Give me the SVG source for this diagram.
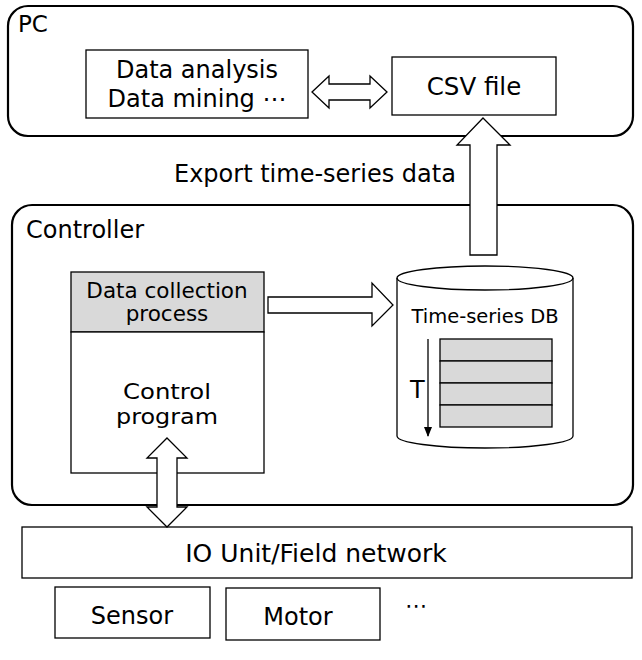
<svg xmlns="http://www.w3.org/2000/svg" width="642" height="660" viewBox="0 0 642 660">
<style>
text { font-family: "DejaVu Sans", "Noto Sans", sans-serif; fill: #000; }
.frame { fill: #fff; stroke: #000; stroke-width: 2.2; }
.box { fill: #fff; stroke: #000; stroke-width: 1.3; }
.gray { fill: #d9d9d9; stroke: #000; stroke-width: 1.3; }
.arrow { fill: #fff; stroke: #000; stroke-width: 1.3; stroke-linejoin: miter; }
.c { text-anchor: middle; }
</style>
<defs>
<marker id="tip" markerWidth="10" markerHeight="8" refX="9" refY="4" orient="auto" markerUnits="userSpaceOnUse" viewBox="0 0 10 8">
<path d="M0,0 L10,4 L0,8 Z" fill="#000"/>
</marker>
</defs>
<rect width="642" height="660" fill="#fff"/>

<g id="pc">
<rect class="frame" x="8" y="6" width="625" height="130" rx="20"/>
<text x="18" y="32" font-size="23">PC</text>
</g>

<g id="controller">
<rect class="frame" x="12" y="205" width="621" height="300" rx="20"/>
<text x="26" y="238" font-size="24">Controller</text>
</g>

<g id="data-analysis">
<rect class="box" x="86" y="50" width="222" height="68"/>
<text class="c" x="197" y="78" font-size="24">Data analysis</text>
<text class="c" x="197" y="107" font-size="24">Data mining ⋯</text>
</g>

<g id="csv-file">
<rect class="box" x="392" y="57" width="164" height="58"/>
<text class="c" x="474" y="95" font-size="24.5">CSV file</text>
</g>

<g id="data-collection">
<rect class="gray" x="71" y="272" width="193" height="60"/>
<text class="c" x="167" y="298" font-size="21.5">Data collection</text>
<text class="c" x="167" y="321" font-size="21.5">process</text>
</g>

<g id="control-program">
<rect class="box" x="71" y="332" width="193" height="141"/>
<text class="c" x="167" y="399" font-size="22" textLength="88" lengthAdjust="spacingAndGlyphs">Control</text>
<text class="c" x="167" y="424" font-size="22" textLength="102" lengthAdjust="spacingAndGlyphs">program</text>
</g>

<g id="time-series-db">
<path class="box" d="M397,278 A88,12 0 0 1 573,278 L573,436 A88,12 0 0 1 397,436 Z"/>
<path fill="none" stroke="#000" stroke-width="1.3" d="M397,278 A88,12 0 0 0 573,278"/>
<text class="c" x="485" y="323" font-size="19.5">Time-series DB</text>
<rect class="gray" x="440" y="339" width="112" height="22"/>
<rect class="gray" x="440" y="361" width="112" height="22"/>
<rect class="gray" x="440" y="383" width="112" height="22"/>
<rect class="gray" x="440" y="405" width="112" height="22"/>
<line x1="428" y1="339" x2="428" y2="436" stroke="#000" stroke-width="1.3" marker-end="url(#tip)"/>
<text x="410" y="398" font-size="24">T</text>
</g>

<g id="io-unit">
<rect class="box" x="22" y="527" width="610" height="51"/>
<text class="c" x="316" y="562" font-size="25">IO Unit/Field network</text>
</g>

<g id="sensor">
<rect class="box" x="55" y="587" width="155" height="51"/>
<text class="c" x="132" y="624" font-size="24">Sensor</text>
</g>

<g id="motor">
<rect class="box" x="226" y="588" width="154" height="52"/>
<text class="c" x="298" y="625" font-size="24">Motor</text>
</g>

<text x="405" y="613" font-size="22">⋯</text>

<g id="connectors">
<polygon class="arrow" points="312,92 329,76 329,84 370,84 370,76 387,92 370,108 370,100 329,100 329,108"/>
<polygon class="arrow" points="483,118 510,145 497,145 497,255 470,255 470,145 457,145"/>
<polygon class="arrow" points="268,297 372,297 372,283 393,305 372,326 372,313 268,313"/>
<polygon class="arrow" points="167,438 187,458 177,458 177,507 187,507 167,527 147,507 157,507 157,458 147,458"/>
<text x="174" y="182" font-size="24">Export time-series data</text>
</g>
</svg>
